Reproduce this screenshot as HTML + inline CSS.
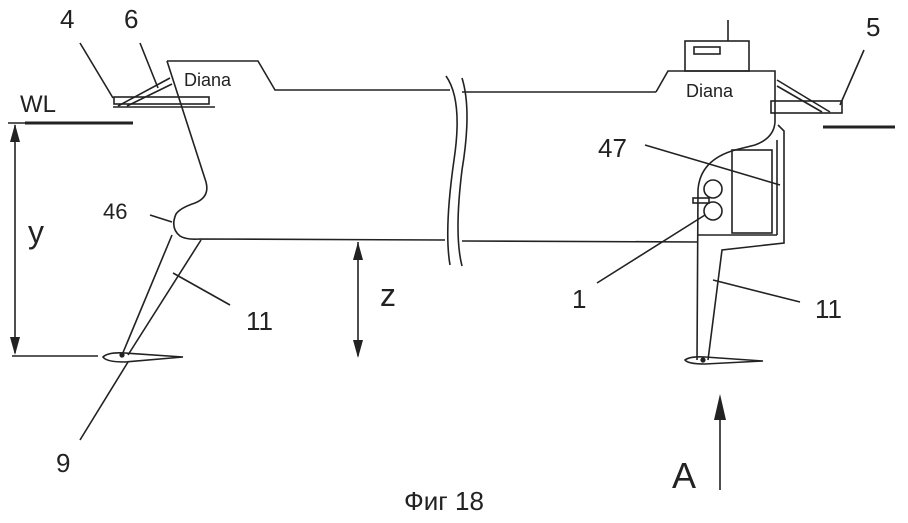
<!DOCTYPE html>
<html><head><style>
html,body{margin:0;padding:0;background:#fff;}
svg{display:block}
text{font-family:"Liberation Sans",sans-serif;fill:#222}
</style></head><body>
<svg width="908" height="523" viewBox="0 0 908 523" xmlns="http://www.w3.org/2000/svg">
<g stroke="#222" stroke-width="1.6" fill="none">
<!-- left bow -->
<line x1="80" y1="43" x2="113" y2="98"/>
<line x1="140" y1="43" x2="158" y2="88"/>
<rect x="114" y="97" width="95" height="7"/>
<line x1="113" y1="107" x2="215" y2="107"/>
<line x1="118" y1="106" x2="170" y2="78"/>
<line x1="127" y1="106" x2="172" y2="84"/>
<polyline points="167,61 258,61 275,90 450,90"/>
<path d="M167,61 L206,182 Q210,197 195,203 Q180,208 176,214 Q170,228 180,236 Q186,240 200,239 L445,240"/>
<line x1="172" y1="235" x2="122" y2="355"/>
<line x1="201" y1="240" x2="128" y2="355"/>
<path d="M103,357 Q108,352 125,353 L183,357 L125,362 Q106,362 103,357 Z"/>
<circle cx="122" cy="355" r="1.8" fill="#222"/>
<line x1="173" y1="273" x2="230" y2="305"/>
<line x1="150" y1="215" x2="172" y2="222"/>
<line x1="80" y1="440" x2="128" y2="362"/>
<line x1="25" y1="123" x2="133" y2="123" stroke-width="3"/>
<line x1="15" y1="125" x2="15" y2="353"/>
<line x1="8" y1="123" x2="25" y2="123"/>
<line x1="12" y1="356" x2="98" y2="356"/>
<line x1="358" y1="242" x2="358" y2="356"/>
<!-- break -->
<path d="M446,76 Q463,100 454,160 Q444,230 450,265"/>
<path d="M462,78 Q472,110 462,170 Q454,235 462,266"/>
<!-- right -->
<line x1="462" y1="92" x2="656" y2="92"/>
<polyline points="656,92 668,71 775,71 775,122"/>
<rect x="685" y="41" width="64" height="30"/>
<rect x="694" y="47" width="26" height="7"/>
<line x1="728" y1="20" x2="728" y2="41"/>
<path d="M775,122 Q774,138 755,145 L735,150 Q700,160 698,190 L697,360"/>
<polyline points="778,125 784,131 784,243 722,250 708,360"/>
<rect x="732" y="150" width="40" height="83"/>
<line x1="777" y1="140" x2="777" y2="235"/>
<line x1="697" y1="235" x2="777" y2="235"/>
<line x1="462" y1="241" x2="697" y2="242"/>
<circle cx="713" cy="189" r="9"/>
<circle cx="713" cy="211" r="9"/>
<rect x="693" y="198" width="16" height="5"/>
<path d="M685,360 Q690,356 705,357 L763,361 L705,364 Q688,364 685,360 Z"/>
<circle cx="703" cy="360" r="1.8" fill="#222"/>
<line x1="645" y1="145" x2="780" y2="185"/>
<line x1="597" y1="283" x2="705" y2="215"/>
<line x1="713" y1="280" x2="800" y2="302"/>
<line x1="864" y1="50" x2="840" y2="105"/>
<rect x="771" y="101" width="71" height="12"/>
<line x1="777" y1="80" x2="830" y2="112"/>
<line x1="777" y1="86" x2="822" y2="112"/>
<line x1="823" y1="127" x2="895" y2="127" stroke-width="3"/>
<line x1="720" y1="490" x2="720" y2="405"/>
</g>
<g fill="#222">
<polygon points="10,142 15,124 20,142"/>
<polygon points="10,337 15,355 20,337"/>
<polygon points="353,260 358,242 363,260"/>
<polygon points="353,340 358,358 363,340"/>
<polygon points="714,420 720,394 726,420"/>
</g>
<g font-size="26">
<text x="60" y="28">4</text>
<text x="124" y="28">6</text>
<text x="866" y="36">5</text>
<text x="20" y="112" font-size="24">WL</text>
<text x="28" y="243" font-size="32">y</text>
<text x="380" y="306" font-size="32">z</text>
<text x="103" y="219" font-size="22">46</text>
<text x="246" y="330">11</text>
<text x="815" y="318">11</text>
<text x="598" y="157">47</text>
<text x="572" y="308">1</text>
<text x="56" y="472">9</text>
<text x="672" y="488" font-size="36">A</text>
<text x="404" y="510" font-size="26">Фиг 18</text>
</g>
<text x="184" y="86" font-size="18">Diana</text>
<text x="686" y="97" font-size="18">Diana</text>
</svg>
</body></html>
